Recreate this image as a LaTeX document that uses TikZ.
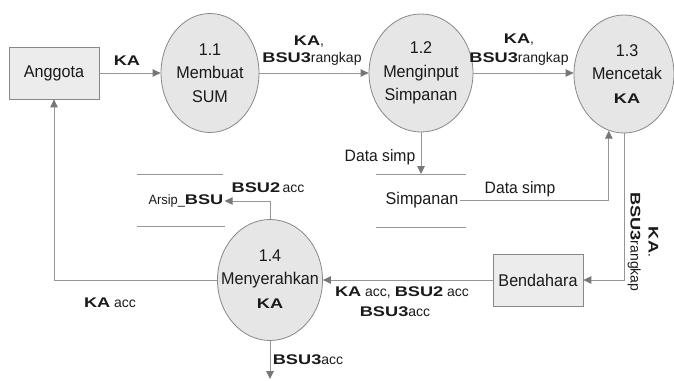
\documentclass[tikz,border=0pt]{standalone}
\usepackage{fontspec}
\setmainfont{Liberation Sans}
\newfontfamily\procfont{Liberation Sans}[FakeStretch=0.95]
\newfontfamily\widefont{Liberation Sans}[FakeStretch=1.3]
\newcommand{\kb}[1]{{\widefont\bfseries #1}}
\newcommand{\kbs}[1]{{\fontsize{14}{16}\selectfont\widefont\bfseries #1}}
\usetikzlibrary{arrows.meta,shapes.geometric,calc}
\definecolor{linegray}{HTML}{969696}
\definecolor{arrowgray}{HTML}{777777}
\definecolor{edgegray}{HTML}{888888}
\definecolor{procfill}{HTML}{E6E6E6}
\definecolor{boxfill}{HTML}{ECECEC}
\definecolor{inkcol}{HTML}{1A1A1A}
\begin{document}
\begin{tikzpicture}[x=1pt,y=-1pt,
  line/.style={draw=linegray, line width=0.9pt},
  flow/.style={line, -{Triangle[length=8pt,width=7.5pt,color=arrowgray]}},
  proc/.style={ellipse, draw=edgegray, fill=procfill, line width=0.8pt, inner sep=0pt},
  ptext/.style={align=center, text=inkcol, inner sep=0pt, font=\procfont\fontsize{17}{23.5}\selectfont},
  ext/.style={rectangle, draw=edgegray, fill=boxfill, line width=0.8pt, minimum width=90pt, minimum height=52pt, text=inkcol, font=\procfont\fontsize{17}{20}\selectfont},
  lbl/.style={inner sep=0pt, text=inkcol, font=\fontsize{14}{18}\selectfont},
  storetext/.style={inner sep=1pt, text=inkcol, font=\procfont\fontsize{17}{20}\selectfont}
]
\useasboundingbox (0,0) rectangle (674,380);

% external entities
\node[ext] (ang) at (54,73) {Anggota};
\node[ext] (bend) at (538,280) {Bendahara};

% processes
\node[proc, minimum width=98pt, minimum height=119pt] (p1) at (210,73) {};
\node[proc, minimum width=104pt, minimum height=118pt] (p2) at (421,73) {};
\node[proc, minimum width=100pt, minimum height=118pt] (p3) at (624,74) {};
\node[proc, minimum width=105pt, minimum height=121pt] (p4) at (270,280) {};
\node[ptext] at (p1) {1.1\\Membuat\\SUM};
\node[ptext] at (p2) {1.2\\Menginput\\Simpanan};
\node[ptext] at (627,74) {1.3\\Mencetak\\\kbs{KA}};
\node[ptext] at ($(p4)+(0,-1)$) {1.4\\Menyerahkan\\\kbs{KA}};

% data stores
\node[storetext] (simp) at (422,200) {Simpanan};
\draw[line] (376,174) -- (466,174) (376,227) -- (466,227);
\node[inner sep=1pt, text=inkcol] (arsip) at (186,201)
  {{\procfont\fontsize{13.5}{16}\selectfont Arsip\_}{\fontsize{14}{16}\selectfont\kb{BSU}}};
\draw[line] (137,174) -- (223,174) (137,226) -- (225,226);

\coordinate (simpTop) at (421,174);
\coordinate (outEnd) at (270,379);

% flows
\draw[flow] (ang.east) -- (ang.east -| p1.west);
\draw[flow] (p1.east) -- (p2.west);
\draw[flow] (p2.east) -- (p2.east -| p3.west);
\draw[flow] (p2.south) -- (simpTop);
\draw[flow] (simp.east) -| (p3.255);
\draw[flow] (p3.south) |- (bend.east);
\draw[flow] (bend.west) -- (p4.east);
\draw[flow] (p4.west) -| (ang.south);
\draw[flow] (p4.north) |- (arsip.east);
\draw[flow] (p4.south) -- (outEnd);

% flow labels
\node[lbl] at (127,61) {\kb{KA}};
\node[lbl] at (309,42) {\kb{KA},};
\node[lbl] at (312,59) {\kb{BSU3}rangkap};
\node[lbl] at (519,40) {\kb{KA},};
\node[lbl] at (519,59) {\kb{BSU3}rangkap};
\node[lbl, font=\procfont\fontsize{16.5}{20}\selectfont] at (380,157) {Data simp};
\node[lbl, font=\procfont\fontsize{16.5}{20}\selectfont] at (520,189) {Data simp};
\node[lbl, rotate=-90, align=center] at (643,242) {\kb{KA}.\\\kb{BSU3}rangkap};
\node[lbl] at (402,293) {\kb{KA} acc, \kb{BSU2} acc};
\node[lbl] at (395,312) {\kb{BSU3}acc};
\node[lbl] at (110,303) {\kb{KA} acc};
\node[lbl] at (268,188) {\kb{BSU2}\,acc};
\node[lbl] at (308,360) {\kb{BSU3}acc};
\end{tikzpicture}
\end{document}
